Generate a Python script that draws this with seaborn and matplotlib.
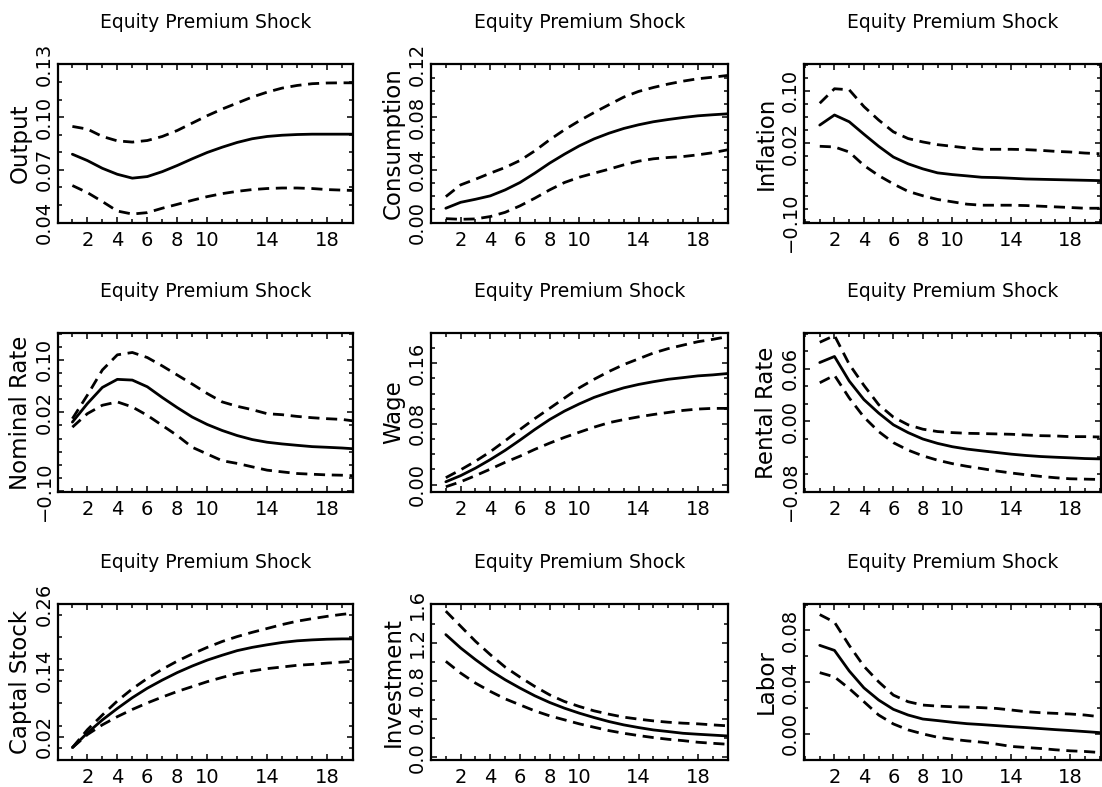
import numpy as np
import pandas as pd
import matplotlib
matplotlib.use("Agg")
import matplotlib.pyplot as plt
from matplotlib.ticker import FixedLocator, FixedFormatter, MultipleLocator
import seaborn as sns

# ---------------- data ----------------
steps = list(range(1, 21))

output_mid = [0.0789, 0.0753, 0.0709, 0.0675, 0.0653, 0.0662, 0.0690, 0.0725, 0.0763, 0.0799,
              0.0829, 0.0856, 0.0877, 0.0890, 0.0897, 0.0901, 0.0903, 0.0903, 0.0903, 0.0903]
output_hi = [0.0947, 0.0932, 0.0890, 0.0865, 0.0858, 0.0867, 0.0890, 0.0924, 0.0966, 0.1008,
             0.1046, 0.1080, 0.1114, 0.1142, 0.1165, 0.1180, 0.1190, 0.1194, 0.1195, 0.1195]
output_lo = [0.0611, 0.0571, 0.0520, 0.0466, 0.0449, 0.0457, 0.0482, 0.0504, 0.0527, 0.0548,
             0.0565, 0.0578, 0.0588, 0.0594, 0.0597, 0.0597, 0.0594, 0.0588, 0.0585, 0.0582]

cons_mid = [0.0109, 0.0154, 0.0177, 0.0203, 0.0248, 0.0304, 0.0375, 0.0451, 0.0519, 0.0582,
            0.0635, 0.0678, 0.0714, 0.0742, 0.0765, 0.0782, 0.0797, 0.0810, 0.0818, 0.0825]
cons_hi = [0.0197, 0.0286, 0.0329, 0.0375, 0.0418, 0.0471, 0.0544, 0.0628, 0.0704, 0.0772,
           0.0835, 0.0894, 0.0952, 0.0995, 0.1025, 0.1051, 0.1073, 0.1091, 0.1103, 0.1116]
cons_lo = [0.0030, 0.0025, 0.0028, 0.0046, 0.0078, 0.0127, 0.0185, 0.0248, 0.0304, 0.0344,
           0.0375, 0.0405, 0.0438, 0.0466, 0.0484, 0.0494, 0.0501, 0.0514, 0.0530, 0.0552]

infl_mid = [0.0477, 0.0631, 0.0528, 0.0338, 0.0154, -0.0010, -0.0113, -0.0190, -0.0251, -0.0277,
            -0.0297, -0.0318, -0.0323, -0.0333, -0.0344, -0.0349, -0.0354, -0.0359, -0.0364, -0.0369]
infl_hi = [0.0810, 0.1031, 0.1015, 0.0759, 0.0554, 0.0374, 0.0272, 0.0220, 0.0179, 0.0154,
           0.0128, 0.0108, 0.0108, 0.0108, 0.0103, 0.0092, 0.0077, 0.0067, 0.0051, 0.0041]
infl_lo = [0.0154, 0.0144, 0.0067, -0.0138, -0.0292, -0.0420, -0.0533, -0.0600, -0.0656, -0.0692,
           -0.0728, -0.0744, -0.0744, -0.0744, -0.0749, -0.0759, -0.0769, -0.0779, -0.0790, -0.0790]

nom_mid = [0.0051, 0.0333, 0.0580, 0.0703, 0.0692, 0.0590, 0.0426, 0.0272, 0.0128, 0.0015,
           -0.0077, -0.0154, -0.0215, -0.0256, -0.0282, -0.0303, -0.0323, -0.0333, -0.0344, -0.0359]
nom_hi = [0.0103, 0.0462, 0.0846, 0.1077, 0.1113, 0.1036, 0.0908, 0.0769, 0.0631, 0.0487,
          0.0359, 0.0292, 0.0241, 0.0179, 0.0164, 0.0138, 0.0118, 0.0103, 0.0092, 0.0062]
nom_lo = [-0.0026, 0.0180, 0.0308, 0.0359, 0.0282, 0.0154, 0.0000, -0.0154, -0.0333, -0.0436,
          -0.0538, -0.0579, -0.0631, -0.0682, -0.0708, -0.0733, -0.0744, -0.0754, -0.0759, -0.0769]

wage_mid = [0.0036, 0.0117, 0.0216, 0.0329, 0.0451, 0.0586, 0.0726, 0.0857, 0.0969, 0.1064,
            0.1150, 0.1217, 0.1276, 0.1321, 0.1357, 0.1389, 0.1411, 0.1434, 0.1447, 0.1465]
wage_hi = [0.0090, 0.0194, 0.0307, 0.0433, 0.0577, 0.0726, 0.0870, 0.1005, 0.1141, 0.1276,
           0.1389, 0.1492, 0.1583, 0.1659, 0.1736, 0.1794, 0.1840, 0.1885, 0.1916, 0.1952]
wage_lo = [-0.0030, 0.0036, 0.0117, 0.0203, 0.0293, 0.0374, 0.0464, 0.0546, 0.0622, 0.0690,
           0.0757, 0.0816, 0.0857, 0.0893, 0.0924, 0.0951, 0.0978, 0.0996, 0.1005, 0.1005]

rent_mid = [0.0673, 0.0742, 0.0462, 0.0250, 0.0096, -0.0038, -0.0127, -0.0200, -0.0250, -0.0288,
            -0.0315, -0.0335, -0.0354, -0.0373, -0.0388, -0.0400, -0.0408, -0.0415, -0.0423, -0.0427]
rent_hi = [0.0904, 0.0981, 0.0654, 0.0412, 0.0192, 0.0050, -0.0038, -0.0088, -0.0115, -0.0127,
           -0.0135, -0.0138, -0.0142, -0.0146, -0.0154, -0.0162, -0.0165, -0.0173, -0.0173, -0.0177]
rent_lo = [0.0442, 0.0527, 0.0269, 0.0050, -0.0115, -0.0242, -0.0327, -0.0392, -0.0442, -0.0481,
           -0.0512, -0.0538, -0.0565, -0.0588, -0.0608, -0.0627, -0.0642, -0.0654, -0.0658, -0.0662]

cap_mid = [0.0000, 0.0266, 0.0502, 0.0710, 0.0905, 0.1077, 0.1225, 0.1361, 0.1480, 0.1587,
           0.1676, 0.1759, 0.1818, 0.1865, 0.1907, 0.1937, 0.1954, 0.1966, 0.1972, 0.1972]
cap_hi = [0.0000, 0.0324, 0.0591, 0.0846, 0.1066, 0.1255, 0.1421, 0.1569, 0.1699, 0.1818,
          0.1925, 0.2014, 0.2091, 0.2161, 0.2232, 0.2293, 0.2339, 0.2381, 0.2417, 0.2446]
cap_lo = [0.0000, 0.0236, 0.0413, 0.0561, 0.0692, 0.0810, 0.0917, 0.1018, 0.1107, 0.1196,
          0.1273, 0.1344, 0.1391, 0.1433, 0.1462, 0.1493, 0.1510, 0.1533, 0.1551, 0.1569]

inv_mid = [1.284, 1.144, 1.022, 0.909, 0.811, 0.724, 0.643, 0.573, 0.513, 0.461,
           0.415, 0.373, 0.338, 0.310, 0.285, 0.268, 0.250, 0.240, 0.231, 0.222]
inv_hi = [1.530, 1.372, 1.214, 1.074, 0.944, 0.839, 0.741, 0.653, 0.583, 0.531,
          0.485, 0.450, 0.419, 0.398, 0.380, 0.366, 0.356, 0.349, 0.338, 0.328]
inv_lo = [1.004, 0.881, 0.776, 0.689, 0.611, 0.548, 0.485, 0.433, 0.391, 0.349,
          0.313, 0.278, 0.250, 0.226, 0.205, 0.187, 0.173, 0.156, 0.145, 0.135]

labor_mid = [0.0685, 0.0646, 0.0487, 0.0356, 0.0262, 0.0190, 0.0146, 0.0115, 0.0103, 0.0090,
             0.0079, 0.0072, 0.0064, 0.0056, 0.0049, 0.0041, 0.0033, 0.0026, 0.0018, 0.0010]
labor_hi = [0.0923, 0.0864, 0.0685, 0.0523, 0.0403, 0.0300, 0.0249, 0.0223, 0.0215, 0.0210,
            0.0208, 0.0203, 0.0197, 0.0185, 0.0172, 0.0164, 0.0159, 0.0154, 0.0146, 0.0133]
labor_lo = [0.0474, 0.0441, 0.0351, 0.0249, 0.0146, 0.0077, 0.0031, 0.0000, -0.0026, -0.0041,
            -0.0054, -0.0064, -0.0079, -0.0097, -0.0105, -0.0113, -0.0123, -0.0131, -0.0136, -0.0144]

panel_names = ["Output", "Consumption", "Inflation",
               "Nominal Rate", "Wage", "Rental Rate",
               "Captal Stock", "Investment", "Labor"]
panel_title = "Equity Premium Shock"

x_tick_values = [2, 4, 6, 8, 10, 14, 18]
x_tick_labels = ["2", "4", "6", "8", "10", "14", "18"]

y_tick_values = [[0.04, 0.07, 0.10, 0.13],
                 [0.00, 0.04, 0.08, 0.12],
                 [-0.10, 0.02, 0.10],
                 [-0.10, 0.02, 0.10],
                 [0.00, 0.08, 0.16],
                 [-0.08, 0.00, 0.06],
                 [0.02, 0.14, 0.26],
                 [0.0, 0.4, 0.8, 1.2, 1.6],
                 [0.00, 0.04, 0.08]]
y_tick_labels = [["0.04", "0.07", "0.10", "0.13"],
                 ["0.00", "0.04", "0.08", "0.12"],
                 ["\u22120.10", "0.02", "0.10"],
                 ["\u22120.10", "0.02", "0.10"],
                 ["0.00", "0.08", "0.16"],
                 ["\u22120.08", "0.00", "0.06"],
                 ["0.02", "0.14", "0.26"],
                 ["0.0", "0.4", "0.8", "1.2", "1.6"],
                 ["0.00", "0.04", "0.08"]]

series = [(output_mid, output_hi, output_lo), (cons_mid, cons_hi, cons_lo),
          (infl_mid, infl_hi, infl_lo), (nom_mid, nom_hi, nom_lo),
          (wage_mid, wage_hi, wage_lo), (rent_mid, rent_hi, rent_lo),
          (cap_mid, cap_hi, cap_lo), (inv_mid, inv_hi, inv_lo),
          (labor_mid, labor_hi, labor_lo)]

# ---------------- layout / style ----------------
y_limits = [(0.0398, 0.1302), (-0.0003, 0.1203), (-0.1015, 0.1408), (-0.1015, 0.141),
            (-0.0099, 0.2), (-0.0805, 0.101), (-0.0225, 0.2605), (-0.03, 1.605), (-0.0202, 0.1005)]
y_minor = [0.01, 0.01, 0.02, 0.02, 0.02, 0.02, 0.04, 0.2, 0.02]
col_xlim = [(0.04, 19.73), (0.0, 20.03), (-0.07, 20.1)]
col_left = [58, 431, 804]
col_width = [295, 297, 297]
row_top = [64, 333, 604]
row_bottom = [223, 492, 760]

W, H = 1102, 787
sns.set_style("ticks")
plt.rcParams["font.family"] = ["DejaVu Sans"]
plt.rcParams["axes.linewidth"] = 1.6
plt.rcParams["text.color"] = "black"
plt.rcParams["axes.labelcolor"] = "black"
plt.rcParams["axes.titlecolor"] = "black"

fig = plt.figure(figsize=(W / 100, H / 100), dpi=100)

for i in range(9):
    r, c = divmod(i, 3)
    ax = fig.add_axes([col_left[c] / W, 1 - row_bottom[r] / H,
                       col_width[c] / W, (row_bottom[r] - row_top[r]) / H])
    mid, hi, lo = series[i]
    df = pd.DataFrame({"step": steps, "mid": mid, "hi": hi, "lo": lo})
    sns.lineplot(data=df, x="step", y="mid", ax=ax, color="black", linewidth=2.0)
    for col in ["hi", "lo"]:
        sns.lineplot(data=df, x="step", y=col, ax=ax, color="black", linewidth=2.0)
        ax.lines[-1].set_dashes([4.0, 2.4])
    ax.set_xlim(*col_xlim[c])
    ax.set_ylim(*y_limits[i])
    ax.xaxis.set_major_locator(FixedLocator(x_tick_values))
    ax.xaxis.set_major_formatter(FixedFormatter(x_tick_labels))
    ax.xaxis.set_minor_locator(MultipleLocator(1))
    ax.yaxis.set_major_locator(FixedLocator(y_tick_values[i]))
    ax.yaxis.set_major_formatter(FixedFormatter(y_tick_labels[i]))
    ax.yaxis.set_minor_locator(MultipleLocator(y_minor[i]))
    ax.tick_params(which="both", direction="in", top=True, right=True,
                   width=1.1, labelsize=14, colors="black")
    ax.tick_params(which="major", length=4)
    ax.tick_params(which="minor", length=3)
    ax.tick_params(axis="x", pad=6)
    ax.tick_params(axis="y", pad=3, labelrotation=90)
    for lab in ax.get_yticklabels():
        lab.set_va("center")
    ax.set_xlabel("")
    ax.set_ylabel(panel_names[i], fontsize=16.5, labelpad=2)
    ax.set_title(panel_title, fontsize=13.5, pad=26, color="black")
    for sp in ax.spines.values():
        sp.set_visible(True)
        sp.set_linewidth(1.6)
        sp.set_color("black")

fig.savefig("out.png", dpi=100, facecolor="white")
